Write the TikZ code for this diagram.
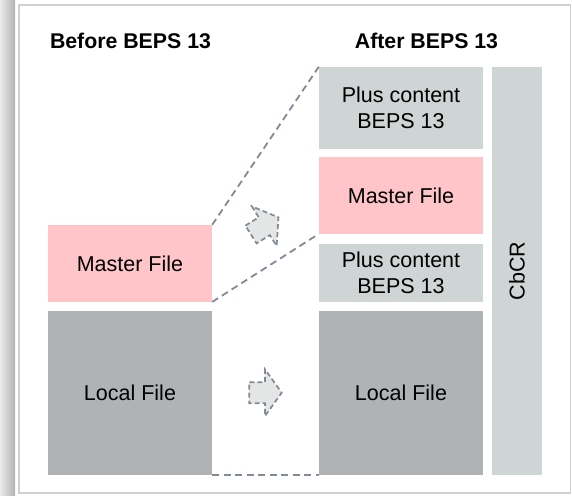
\documentclass[tikz,border=0pt]{standalone}
\usepackage{fontspec}
\setmainfont{Liberation Sans}
\definecolor{pinkbox}{HTML}{FFC5C9}
\definecolor{lightbox}{HTML}{CFD4D4}
\definecolor{darkbox}{HTML}{AFB3B6}
\definecolor{dashcol}{HTML}{818A96}
\definecolor{arrowfill}{HTML}{E4E6E6}
\definecolor{framecol}{HTML}{CDD1D1}
\tikzset{
  box/.style={inner sep=0pt, align=center, font=\fontsize{21.5}{26.5}\selectfont, text=black},
  title/.style={inner sep=0pt, font=\fontsize{21.3}{24}\selectfont\bfseries, text=black},
  guide/.style={draw=dashcol, line width=1.8pt, dash pattern=on 7pt off 4.5pt},
  blockarrow/.style={draw=dashcol, fill=arrowfill, line width=1.7pt, dash pattern=on 5pt off 3pt, line join=miter}
}
\begin{document}
\begin{tikzpicture}[x=1pt,y=-1pt]
\useasboundingbox (0,0) rectangle (572,495);
\fill[white] (0,0) rectangle (572,495);
\shade[left color=white!92!black, right color=white!70!black] (0,0) rectangle (15,495);
\draw[framecol, line width=1.5pt] (19,5) rectangle (570.5,493);
% titles
\node[title] (tbefore) at (130.5,41) {Before BEPS 13};
\node[title] (tafter) at (426.5,41) {After BEPS 13};
% left boxes
\node[box, fill=pinkbox, minimum width=164pt, minimum height=76.7pt] (lmaster) at (130,263.35) {Master File};
\node[box, fill=darkbox, minimum width=164pt, minimum height=163.7pt] (llocal) at (130,392.85) {Local File};
% right boxes
\node[box, fill=lightbox, minimum width=164pt, minimum height=81.7pt] (pcone) at (401,107.85) {Plus content\\BEPS 13};
\node[box, fill=pinkbox, minimum width=164pt, minimum height=76.7pt] (rmaster) at (401,195.35) {Master File};
\node[box, fill=lightbox, minimum width=164pt, minimum height=57.7pt] (pctwo) at (401,272.85) {Plus content\\BEPS 13};
\node[box, fill=darkbox, minimum width=164pt, minimum height=163.7pt] (rlocal) at (401,392.85) {Local File};
\node[box, fill=lightbox, minimum width=50pt, minimum height=407.7pt] (cbcr) at (517,270.85) {};
\node[box, rotate=90] (cbcrtext) at (cbcr.center) {CbCR};
% dashed guides
\draw[guide] (lmaster.north east) -- (pcone.north west);
\draw[guide] (lmaster.south east) -- (rmaster.south west);
\draw[guide] (llocal.south east) -- (rlocal.south west);
% block arrows
\begin{scope}[shift={(264.3,226.2)}, rotate=32]
\draw[blockarrow] (-15.7,-10.5) -- (0,-10.5) -- (0,-23.3) -- (16.7,0) -- (0,23.3) -- (0,10.5) -- (-15.7,10.5) -- cycle;
\end{scope}
\begin{scope}[shift={(265,392.7)}]
\draw[blockarrow] (-15.7,-10.5) -- (0,-10.5) -- (0,-23.3) -- (16.7,0) -- (0,23.3) -- (0,10.5) -- (-15.7,10.5) -- cycle;
\end{scope}
\end{tikzpicture}
\end{document}
